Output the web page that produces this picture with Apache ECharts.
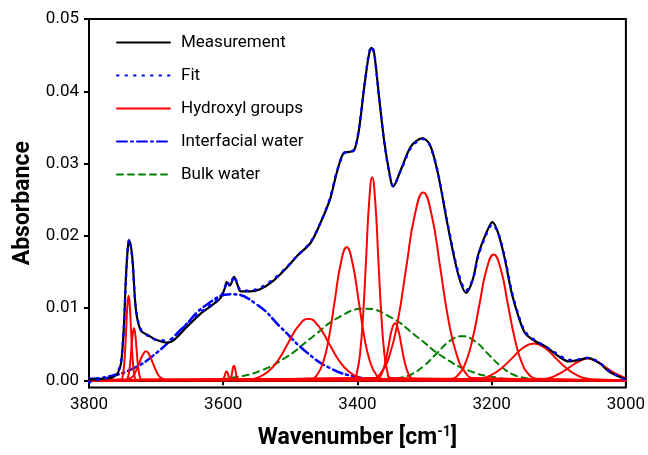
<!DOCTYPE html>
<html>
<head>
<meta charset="utf-8">
<script src="https://cdn.jsdelivr.net/npm/echarts@6/dist/echarts.min.js"></script>
<style>
  html, body { margin: 0; padding: 0; background: #fff; }
  #chart { width: 648px; height: 455px; }
</style>
</head>
<body>
<div id="chart"></div>
<script>
// [wavenumber, absorbance] pairs
var measurement = [[3800,0.0001],[3780,0.0002],[3765,0.0004],[3757,0.0010],[3752,0.0025],[3748,0.0075],[3745,0.0142],[3742,0.0185],[3740,0.0194],[3737,0.0182],[3735,0.0165],[3730,0.0097],[3723,0.0069],[3713,0.0063],[3700,0.0056],[3683,0.0052],[3673,0.0056],[3654,0.0074],[3634,0.0092],[3615,0.0105],[3604,0.0114],[3597,0.0129],[3595,0.0136],[3590,0.0131],[3584,0.0143],[3579,0.0133],[3574,0.0123],[3560,0.0123],[3545,0.0126],[3525,0.0138],[3505,0.0156],[3490,0.0172],[3470,0.0190],[3456,0.0216],[3441,0.0250],[3430,0.0290],[3420,0.0315],[3412,0.0316],[3405,0.0318],[3398,0.0345],[3390,0.0405],[3383,0.0450],[3379,0.0460],[3375,0.0452],[3368,0.0394],[3360,0.0330],[3352,0.0285],[3347,0.0268],[3335,0.0292],[3320,0.0324],[3303,0.0335],[3292,0.0326],[3280,0.0286],[3265,0.0212],[3250,0.0147],[3238,0.0121],[3228,0.0140],[3220,0.0174],[3208,0.0204],[3199,0.0219],[3190,0.0203],[3180,0.0166],[3170,0.0120],[3160,0.0088],[3150,0.0065],[3135,0.0054],[3120,0.0047],[3100,0.0033],[3085,0.0026],[3070,0.0028],[3057,0.0031],[3040,0.0024],[3025,0.0012],[3010,0.0005],[3000,0.0002]];

var fit = [[3800,-0.0003],[3785,0.0001],[3770,0.0004],[3760,0.0009],[3753,0.0022],[3748,0.0074],[3745,0.0140],[3742,0.0186],[3740,0.0195],[3737,0.0181],[3735,0.0163],[3730,0.0098],[3723,0.0071],[3713,0.0062],[3700,0.0056],[3685,0.0055],[3673,0.0060],[3654,0.0078],[3634,0.0094],[3615,0.0107],[3604,0.0116],[3597,0.0130],[3595,0.0137],[3590,0.0131],[3584,0.0144],[3579,0.0134],[3574,0.0125],[3560,0.0124],[3545,0.0128],[3525,0.0140],[3505,0.0157],[3490,0.0172],[3470,0.0191],[3456,0.0216],[3441,0.0252],[3430,0.0291],[3420,0.0314],[3412,0.0317],[3405,0.0319],[3398,0.0347],[3390,0.0406],[3383,0.0452],[3379,0.0462],[3375,0.0453],[3368,0.0393],[3360,0.0329],[3352,0.0284],[3347,0.0269],[3335,0.0291],[3320,0.0322],[3303,0.0334],[3292,0.0325],[3280,0.0287],[3265,0.0214],[3250,0.0150],[3238,0.0124],[3228,0.0140],[3220,0.0172],[3208,0.0202],[3199,0.0216],[3190,0.0203],[3180,0.0168],[3170,0.0123],[3160,0.0090],[3150,0.0067],[3135,0.0055],[3120,0.0047],[3100,0.0035],[3085,0.0028],[3070,0.0029],[3057,0.0031],[3040,0.0025],[3025,0.0013],[3010,0.0005],[3000,0.0000]];

var hydroxylA = [[3800,0],[3751.8,0.0001],[3750,0.0005],[3748.2,0.0016],[3746.4,0.0038],[3744.6,0.0071],[3742.8,0.0103],[3741,0.0117],[3739.2,0.0103],[3737.4,0.0071],[3735.6,0.0038],[3733.8,0.0016],[3732,0.0005],[3730.2,0.0001],[3000,0]];
var hydroxylB = [[3800,0],[3744.4,0.0001],[3742.5,0.0003],[3740.6,0.0010],[3738.7,0.0023],[3736.8,0.0044],[3734.9,0.0064],[3733,0.0072],[3731.1,0.0064],[3729.2,0.0044],[3727.3,0.0023],[3725.4,0.0010],[3723.5,0.0003],[3721.6,0.0001],[3000,0]];
var hydroxylC = [[3800,0],[3745,0.0000],[3740,0.0002],[3735,0.0005],[3730,0.0013],[3725,0.0024],[3720,0.0035],[3715,0.0040],[3710,0.0035],[3705,0.0024],[3700,0.0013],[3695,0.0005],[3690,0.0002],[3685,0.0000],[3000,0]];
var hydroxylD = [[3800,0],[3602.5,0.0000],[3600,0.0002],[3598.8,0.0004],[3597.5,0.0007],[3596.3,0.0011],[3595,0.0012],[3593.8,0.0011],[3592.5,0.0007],[3591.3,0.0004],[3590,0.0002],[3587.5,0.0000],[3000,0]];
var hydroxylE = [[3800,0],[3591.5,0.0000],[3589,0.0003],[3587.8,0.0006],[3586.5,0.0012],[3585.3,0.0018],[3584,0.0020],[3582.8,0.0018],[3581.5,0.0012],[3580.3,0.0006],[3579,0.0003],[3576.5,0.0000],[3000,0]];
var hydroxylF = [[3800,0],[3563,0.0001],[3548,0.0004],[3533,0.0012],[3518,0.0028],[3503,0.0052],[3488,0.0075],[3473,0.0085],[3458,0.0075],[3443,0.0052],[3428,0.0028],[3413,0.0012],[3398,0.0004],[3383,0.0001],[3000,0]];
var hydroxylG = [[3800,0],[3468.5,0.0002],[3459.8,0.0008],[3451,0.0025],[3442.3,0.0060],[3433.5,0.0112],[3424.8,0.0162],[3416,0.0184],[3407.3,0.0162],[3398.5,0.0112],[3389.8,0.0060],[3381,0.0025],[3372.3,0.0008],[3363.5,0.0002],[3000,0]];
var hydroxylH = [[3800,0],[3405,0.0003],[3400.5,0.0012],[3396,0.0038],[3391.5,0.0091],[3387,0.0170],[3382.5,0.0248],[3378,0.0281],[3373.5,0.0248],[3369,0.0170],[3364.5,0.0091],[3360,0.0038],[3355.5,0.0012],[3351,0.0003],[3000,0]];
var hydroxylI = [[3800,0],[3372.5,0.0001],[3367.8,0.0003],[3363,0.0011],[3358.3,0.0026],[3353.5,0.0048],[3348.8,0.0070],[3344,0.0079],[3339.3,0.0070],[3334.5,0.0048],[3329.8,0.0026],[3325,0.0011],[3320.3,0.0003],[3315.5,0.0001],[3000,0]];
var hydroxylJ = [[3800,0],[3377,0.0003],[3364.5,0.0011],[3352,0.0035],[3339.5,0.0084],[3327,0.0158],[3314.5,0.0229],[3302,0.0260],[3289.5,0.0229],[3277,0.0158],[3264.5,0.0084],[3252,0.0035],[3239.5,0.0011],[3227,0.0003],[3000,0]];
var hydroxylK = [[3800,0],[3260,0.0002],[3249.5,0.0008],[3239,0.0024],[3228.5,0.0057],[3218,0.0106],[3207.5,0.0154],[3197,0.0174],[3186.5,0.0154],[3176,0.0106],[3165.5,0.0057],[3155,0.0024],[3144.5,0.0008],[3134,0.0002],[3000,0]];
var hydroxylL = [[3800,0],[3233,0.0001],[3217,0.0002],[3201,0.0007],[3185,0.0017],[3169,0.0031],[3153,0.0045],[3137,0.0051],[3121,0.0045],[3105,0.0031],[3089,0.0017],[3073,0.0007],[3057,0.0002],[3041,0.0001],[3000,0]];
var hydroxylM = [[3800,0],[3138,0.0000],[3124.5,0.0001],[3111,0.0004],[3097.5,0.0010],[3084,0.0018],[3070.5,0.0026],[3057,0.0030],[3043.5,0.0026],[3030,0.0018],[3016.5,0.0010],[3003,0.0004],[3000,0.0003]];

var interfacial = [[3800,0.0002],[3772,0.0005],[3735,0.0016],[3698,0.0039],[3661,0.0072],[3624,0.0105],[3587,0.0119],[3550,0.0105],[3513,0.0072],[3476,0.0039],[3439,0.0016],[3402,0.0005],[3365,0.0001],[3300,0],[3000,0]];

var bulkA = [[3800,0],[3623,0.0001],[3584,0.0004],[3545,0.0013],[3506,0.0032],[3467,0.0060],[3428,0.0087],[3389,0.0099],[3350,0.0087],[3311,0.0060],[3272,0.0032],[3233,0.0013],[3194,0.0004],[3155,0.0001],[3000,0]];
var bulkB = [[3800,0],[3358,0.0001],[3339,0.0003],[3320,0.0008],[3301,0.0020],[3282,0.0037],[3263,0.0054],[3244,0.0061],[3225,0.0054],[3206,0.0037],[3187,0.0020],[3168,0.0008],[3149,0.0003],[3130,0.0001],[3000,0]];

var xRange = { min: 3000, max: 3800, step: 200 };
var yRange = { min: -0.001, max: 0.05 };
var yTickValues = [0, 0.01, 0.02, 0.03, 0.04, 0.05];

var legendNames = ['Measurement', 'Fit', 'Hydroxyl groups', 'Interfacial water', 'Bulk water'];
var hydroxyls = [hydroxylA, hydroxylB, hydroxylC, hydroxylD, hydroxylE, hydroxylF, hydroxylG,
                 hydroxylH, hydroxylI, hydroxylJ, hydroxylK, hydroxylL, hydroxylM];

function line(name, data, color, type, width, z, smooth) {
    return {
        name: name,
        type: 'line',
        data: data,
        symbol: 'none',
        smooth: smooth,
        z: z,
        lineStyle: { color: color, width: width, type: type, cap: 'round' },
        itemStyle: { color: color },
        emphasis: { disabled: true }
    };
}

var series = [];
series.push(line('Bulk water', bulkA, '#008000', [6, 5], 2, 2, 0.5));
series.push(line('Bulk water', bulkB, '#008000', [6, 5], 2, 2, 0.5));
series.push(line('Interfacial water', interfacial, '#0000ff', [10, 4, 2, 4], 2.5, 3, 0.5));
for (var i = 0; i < hydroxyls.length; i++) {
    series.push(line('Hydroxyl groups', hydroxyls[i], '#ff0000', 'solid', 2, 4, 0.5));
}
series.push(line('Measurement', measurement, '#000000', 'solid', 2.2, 5, 0.3));
series.push(line('Fit', fit, '#0000ff', [1.5, 7], 2.5, 6, 0.3));

var chart = echarts.init(document.getElementById('chart'));
chart.setOption({
    animation: false,
    textStyle: { fontFamily: 'Roboto' },
    grid: { left: 89, right: 21, top: 19, bottom: 62.5, show: true, borderColor: '#000', borderWidth: 2 },
    legend: {
        data: legendNames,
        orient: 'vertical',
        left: 116,
        top: 34,
        padding: 0,
        itemWidth: 53,
        itemHeight: 20,
        itemGap: 16,
        itemStyle: { opacity: 0 },
        textStyle: { fontSize: 17, color: '#000', fontFamily: 'Roboto', padding: [0, 0, 0, 6] }
    },
    xAxis: {
        type: 'value',
        inverse: true,
        min: xRange.min,
        max: xRange.max,
        interval: xRange.step,
        name: '{t|Wavenumber [cm}{s|-1}{t|]}',
        nameLocation: 'middle',
        nameGap: 38,
        nameTextStyle: {
            rich: {
                t: { fontSize: 23, fontWeight: 'bold', color: '#000', fontFamily: 'Roboto', lineHeight: 26 },
                s: { fontSize: 14, fontWeight: 'bold', color: '#000', fontFamily: 'Roboto', verticalAlign: 'top', lineHeight: 14 }
            }
        },
        axisLine: { show: true, lineStyle: { color: '#000', width: 2 } },
        axisTick: { show: true, length: 5, lineStyle: { color: '#000', width: 2 } },
        axisLabel: { fontSize: 17, color: '#000', margin: 9, formatter: function (v) { return String(v); } },
        splitLine: { show: false }
    },
    yAxis: {
        type: 'value',
        min: yRange.min,
        max: yRange.max,
        name: 'Absorbance',
        nameLocation: 'middle',
        nameRotate: 90,
        nameGap: 53,
        nameTextStyle: { fontSize: 23, fontWeight: 'bold', color: '#000', fontFamily: 'Roboto' },
        axisLine: { show: true, lineStyle: { color: '#000', width: 2 } },
        axisTick: { show: true, length: 5, customValues: yTickValues, lineStyle: { color: '#000', width: 2 } },
        axisLabel: {
            fontSize: 17, color: '#000', margin: 10, customValues: yTickValues,
            formatter: function (v) { return v.toFixed(2); }
        },
        splitLine: { show: false }
    },
    series: series
});
</script>
</body>
</html>
